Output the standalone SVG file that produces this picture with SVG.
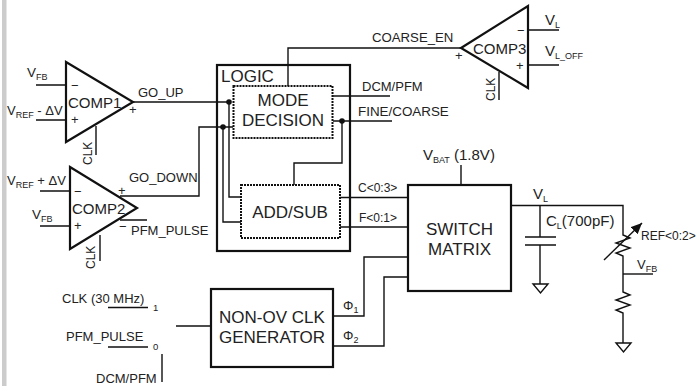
<svg xmlns="http://www.w3.org/2000/svg" width="697" height="386" viewBox="0 0 697 386">
<style>
text{font-family:"Liberation Sans",Arial,sans-serif;fill:#222}
.b{font-size:17px}.m{font-size:15px}.s{font-size:13px}.t{font-size:13px}
.sub{font-size:9px}.bit{font-size:9.5px}
.box{fill:#fff;stroke:#111;stroke-width:2.2}
.dash{fill:none;stroke:#111;stroke-width:2;stroke-dasharray:2 1}
.tri{fill:none;stroke:#111;stroke-width:2.2;stroke-linejoin:miter}
.w{fill:none;stroke:#111;stroke-width:1.4}
.dot{fill:#111}
</style>
<defs><marker id="ah" markerUnits="userSpaceOnUse" markerWidth="12" markerHeight="12" refX="11" refY="5" orient="auto"><path d="M0 0L11 5L0 10Z" fill="#111"/></marker></defs>
<rect x="2" y="0" width="4.5" height="386" fill="#ccc"/>
<g id="connectors" class="w">
<path d="M133 102H229V197H241"/>
<path d="M120 196H199V127H233"/>
<path d="M223 127V222H241"/>
<path d="M288 86V48H461"/>
<path d="M333 96H390"/>
<path d="M333 121H392"/>
<path d="M342 121V163H294V185"/>
<path d="M340 197.500H408"/>
<path d="M340 227H408"/>
<path d="M461 165V185"/>
<path d="M333 316H364V257H408"/>
<path d="M333 346H384V277H408"/>
<path d="M176 326H211"/>
<path d="M108 307.500H148M108 347H148M162 354V382"/>
<path d="M36 85H66M36 120H66M96 126V155"/>
<path d="M40 191H70M40 226H70M100 235V261M120 220H147"/>
<path d="M528 30H559M528 65H559M499 72V100"/>
<path d="M511 205.500H623V235l7 3-14 5 14 5-14 5 7 3V292l7 3-14 5 14 5-14 5 7 3V343"/>
<path d="M623 274H653"/>
<path d="M540 205.500V237M525 237H556M525 245H556M540 245V284"/>
<path d="M533 284H548L540.500 293ZM616 343H631L623.500 352Z"/>
<path d="M604 260L642 223" marker-end="url(#ah)"/>
<circle class="dot" cx="229" cy="102" r="2.800" stroke="none"/>
<circle class="dot" cx="223" cy="127" r="2.800" stroke="none"/>
<circle class="dot" cx="342" cy="121" r="2.800" stroke="none"/>
</g>
<g id="comp1"><path class="tri" d="M66 62L133 102L66 142Z"/><text class="m" x="68" y="108">COMP1</text><text class="s" x="71" y="90">−</text><text class="s" x="71" y="124">+</text><text class="s" x="129" y="114">+</text><text class="t" transform="translate(92,165) rotate(-90)" style="font-size:12px">CLK</text></g>
<g id="comp2"><path class="tri" d="M70 167L137 208L70 249Z"/><text class="m" x="72" y="214">COMP2</text><text class="s" x="74" y="196">−</text><text class="s" x="74" y="230">+</text><text class="s" x="118" y="195">+</text><text class="s" x="119" y="231">−</text><text class="t" transform="translate(95,269) rotate(-90)" style="font-size:12px">CLK</text></g>
<g id="comp3"><path class="tri" d="M461 48L528 6L528 88Z"/><text class="m" x="473" y="54">COMP3</text><text class="s" x="517" y="35">−</text><text class="s" x="516" y="70">+</text><text class="s" x="455" y="60">+</text><text class="t" transform="translate(495,101) rotate(-90)" style="font-size:12px">CLK</text></g>
<g id="logic"><rect class="box" style="fill:none" x="217" y="65" width="133" height="186"/><text class="b" x="221" y="82">LOGIC</text></g>
<g id="mode-decision"><rect class="dash" x="233.500" y="86" width="99" height="52"/><text class="b" x="283" y="106" text-anchor="middle">MODE</text><text class="b" x="283" y="126" text-anchor="middle">DECISION</text></g>
<g id="add-sub"><rect class="dash" x="241" y="185" width="99" height="53"/><text class="b" x="290" y="218" text-anchor="middle">ADD/SUB</text></g>
<g id="switch-matrix"><rect class="box" x="408" y="185" width="103" height="106"/><text class="b" x="459.500" y="235" text-anchor="middle">SWITCH</text><text class="b" x="459.500" y="255" text-anchor="middle">MATRIX</text></g>
<g id="non-ov"><rect class="box" x="211" y="289" width="122" height="78"/><text class="b" x="272" y="323" text-anchor="middle">NON-OV CLK</text><text class="b" x="272" y="343" text-anchor="middle">GENERATOR</text></g>
<g id="labels">
<text class="s" x="27" y="77" style="font-size:13.500px">V<tspan class="sub" dy="3">FB</tspan></text>
<text class="s" x="7" y="115" style="font-size:13px">V<tspan class="sub" dy="3">REF</tspan><tspan dy="-3"> - ΔV</tspan></text>
<text class="s" x="7" y="185" style="font-size:13px">V<tspan class="sub" dy="3">REF</tspan><tspan dy="-3"> + ΔV</tspan></text>
<text class="s" x="32" y="219" style="font-size:13.500px">V<tspan class="sub" dy="3">FB</tspan></text>
<text class="s" x="138" y="97">GO_UP</text>
<text class="s" x="129" y="182">GO_DOWN</text>
<text class="s" x="131" y="235">PFM_PULSE</text>
<text class="s" x="372" y="42" style="font-size:13.200px">COARSE_EN</text>
<text class="s" x="362" y="91">DCM/PFM</text>
<text class="s" x="358" y="116" style="font-size:13.400px">FINE/COARSE</text>
<text class="s" x="358" y="192" style="font-size:12px">C&lt;0:3&gt;</text>
<text class="s" x="359" y="222" style="font-size:12px">F&lt;0:1&gt;</text>
<text class="s" x="545" y="25" style="font-size:15px">V<tspan class="sub" dy="3">L</tspan></text>
<text class="s" x="545" y="56" style="font-size:15px">V<tspan class="sub" dy="3">L_OFF</tspan></text>
<text class="s" x="423" y="160" style="font-size:15px">V<tspan class="sub" dy="3">BAT</tspan><tspan dy="-3"> (1.8V)</tspan></text>
<text class="s" x="533" y="199" style="font-size:15px">V<tspan class="sub" dy="3">L</tspan></text>
<text class="s" x="546" y="226" style="font-size:15px">C<tspan class="sub" dy="3">L</tspan><tspan dy="-3">(700pF)</tspan></text>
<text class="s" x="641" y="240" style="font-size:12px">REF&lt;0:2&gt;</text>
<text class="s" x="637" y="269">V<tspan class="sub" dy="3">FB</tspan></text>
<text class="s" x="62" y="303">CLK (30 MHz)</text>
<text class="bit" x="153" y="311">1</text>
<text class="s" x="66" y="341">PFM_PULSE</text>
<text class="bit" x="153" y="350">0</text>
<text class="s" x="96" y="383">DCM/PFM</text>
<text class="s" x="343" y="310">Φ<tspan class="sub" dy="3">1</tspan></text>
<text class="s" x="343" y="340">Φ<tspan class="sub" dy="3">2</tspan></text>
</g>
</svg>
